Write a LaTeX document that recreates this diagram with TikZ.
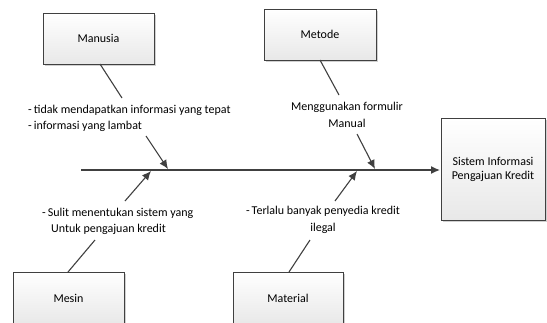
\documentclass[tikz,border=0pt]{standalone}
\usepackage{fontspec}
\setmainfont{Carlito}
\usetikzlibrary{shadows,arrows.meta}
\definecolor{ln}{HTML}{404040}
\tikzset{
  catbox/.style={draw=ln, line width=0.7pt, top color=white, bottom color=black!9,
    drop shadow={shadow xshift=2pt, shadow yshift=-2pt, fill=black!30, opacity=0.6},
    inner sep=0pt, font=\fontsize{12}{14}\selectfont},
  cause/.style={font=\fontsize{12}{16.5}\selectfont, inner sep=0pt, text=black},
  bone/.style={draw=ln, line width=1.1pt},
  arr/.style={bone, -{Latex[length=9pt,width=8pt]}},
}
\begin{document}
\begin{tikzpicture}[x=1pt,y=-1pt]
\clip (0,0) rectangle (547,322);
\fill[white] (0,0) rectangle (547,322);
% boxes
\node[catbox, minimum width=111pt, minimum height=51pt] (manusia) at (98.5,38.5) {Manusia};
\node[catbox, minimum width=112pt, minimum height=51pt] (metode) at (320,34.5) {Metode};
\node[catbox, minimum width=111pt, minimum height=52pt] (mesin) at (68.5,298) {Mesin};
\node[catbox, minimum width=110pt, minimum height=52pt] (material) at (288,298) {Material};
\node[catbox, minimum width=104pt, minimum height=102pt, align=center] (sistem) at (493,169) {Sistem Informasi\\Pengajuan Kredit};
% cause texts
\node[cause, anchor=west, align=left] (tm) at (28,118.5) {-\,tidak mendapatkan informasi yang tepat\\-\,informasi yang lambat};
\node[cause, align=center] (tme) at (347,115) {Menggunakan formulir\\Manual};
\node[cause, align=left, anchor=west] (tms) at (42,221.5) {-\,Sulit menentukan sistem yang\\\hspace{9pt}Untuk pengajuan kredit};
\node[cause, align=center] (tma) at (323,220) {-\,Terlalu banyak penyedia kredit\\ilegal};
% coordinates
\coordinate (s0) at (81,170);
\coordinate (s1) at (440,170);
\coordinate (ma1) at (100,64);
\coordinate (ma2) at (122,98);
\coordinate (ma3) at (146,136);
\coordinate (ma4) at (168,169);
\coordinate (me1) at (320,60);
\coordinate (me2) at (339,95);
\coordinate (me3) at (357,134);
\coordinate (me4) at (375,169);
\coordinate (ms1) at (68,272);
\coordinate (ms2) at (95,240);
\coordinate (ms3) at (125,201);
\coordinate (ms4) at (151,171);
\coordinate (mt1) at (289,272);
\coordinate (mt2) at (310,240);
\coordinate (mt3) at (335,201);
\coordinate (mt4) at (357,171);
% spine
\draw[arr, line width=1.3pt] (s0) -- (s1);
% bones
\draw[bone] (ma1) -- (ma2);
\draw[arr] (ma3) -- (ma4);
\draw[bone] (me1) -- (me2);
\draw[arr] (me3) -- (me4);
\draw[bone] (ms1) -- (ms2);
\draw[arr] (ms3) -- (ms4);
\draw[bone] (mt1) -- (mt2);
\draw[arr] (mt3) -- (mt4);
\end{tikzpicture}
\end{document}
